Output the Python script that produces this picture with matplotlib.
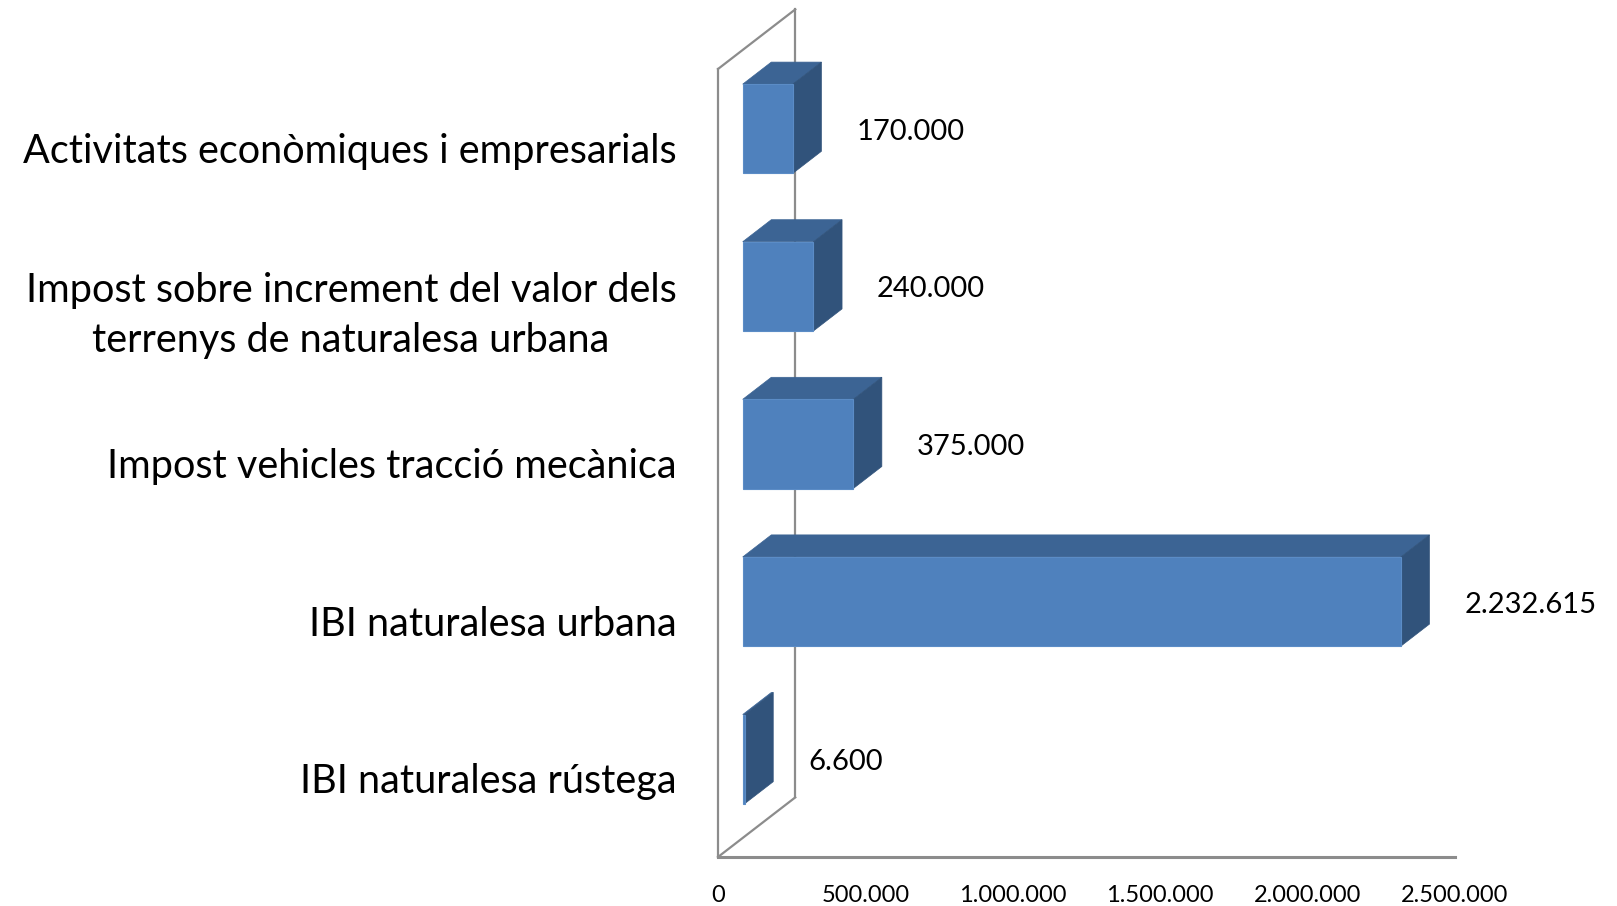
import matplotlib
matplotlib.use("Agg")
from matplotlib import pyplot as plt
from matplotlib.patches import Polygon

categories = ["IBI naturalesa rústega",
              "IBI naturalesa urbana",
              "Impost vehicles tracció mecànica",
              "Impost sobre increment del valor dels\nterrenys de naturalesa urbana",
              "Activitats econòmiques i empresarials"]
values = [6600, 2232615, 375000, 240000, 170000]
value_labels = ["6.600", "2.232.615", "375.000", "240.000", "170.000"]
x_ticks = [0, 500000, 1000000, 1500000, 2000000, 2500000]
x_tick_labels = ["0", "500.000", "1.000.000", "1.500.000", "2.000.000", "2.500.000"]

plt.rcParams['font.family'] = ['Lato', 'DejaVu Sans']

W, H = 1617, 906
fig = plt.figure(figsize=(W / 100, H / 100), dpi=100)
# axes = front plane of the 3D box
left_px, right_px, top_px, bot_px = 718, 1455, 69, 857
ax = fig.add_axes([left_px / W, (H - bot_px) / H, (right_px - left_px) / W, (bot_px - top_px) / H])
ax.set_xlim(0, 2500000)
ax.set_ylim(-0.5, 4.5)
for s in ax.spines.values():
    s.set_visible(False)

# depth offset of back wall (data units)
dx = 262000
dy = 0.378
wall = "#8C8C8C"
lw = 1.6
ax.plot([0, 0], [-0.5, 4.5], color=wall, lw=lw, clip_on=False, zorder=0.5)
ax.plot([dx, dx], [-0.5 + dy, 4.5 + dy], color=wall, lw=lw, clip_on=False, zorder=0.5)
ax.plot([0, dx], [4.5, 4.5 + dy], color=wall, lw=lw, clip_on=False, zorder=0.5)
ax.plot([0, dx], [-0.5, -0.5 + dy], color=wall, lw=lw, clip_on=False, zorder=0.5)
ax.plot([0, 2500000], [-0.5, -0.5], color=wall, lw=lw + 0.6, clip_on=False, zorder=0.5)

front_c = "#4F81BD"
top_c = "#3C6494"
side_c = "#31537B"
f0, f1 = 0.32, 0.69
h = 0.283

for i, v in enumerate(values):
    x0f, x1f = dx * f0, dx * f0 + v
    x0b, x1b = dx * f1, dx * f1 + v
    yf, yb = i + dy * f0, i + dy * f1
    top = Polygon([(x0f, yf + h), (x1f, yf + h), (x1b, yb + h), (x0b, yb + h)],
                  closed=True, facecolor=top_c, edgecolor=top_c, lw=0.5, clip_on=False)
    side = Polygon([(x1f, yf - h), (x1f, yf + h), (x1b, yb + h), (x1b, yb - h)],
                   closed=True, facecolor=side_c, edgecolor=side_c, lw=0.5, clip_on=False)
    front = Polygon([(x0f, yf - h), (x1f, yf - h), (x1f, yf + h), (x0f, yf + h)],
                    closed=True, facecolor=front_c, edgecolor="#5B8CC6", lw=0.8, clip_on=False)
    ax.add_patch(top)
    ax.add_patch(side)
    ax.add_patch(front)
    ax.text(x1b + 118000, yf - 0.02, value_labels[i], fontsize=21, ha="left", va="center")

ax.set_xticks(x_ticks)
ax.set_xticklabels(x_tick_labels, fontsize=17)
ax.set_yticks(range(len(categories)))
ax.set_yticklabels(categories, fontsize=28.5, linespacing=1.45)
for lab in ax.get_yticklabels():
    lab.set_multialignment("center")
ax.tick_params(axis="x", length=0, pad=20)
ax.tick_params(axis="y", length=0, pad=30)

fig.savefig("out.png", dpi=100)
